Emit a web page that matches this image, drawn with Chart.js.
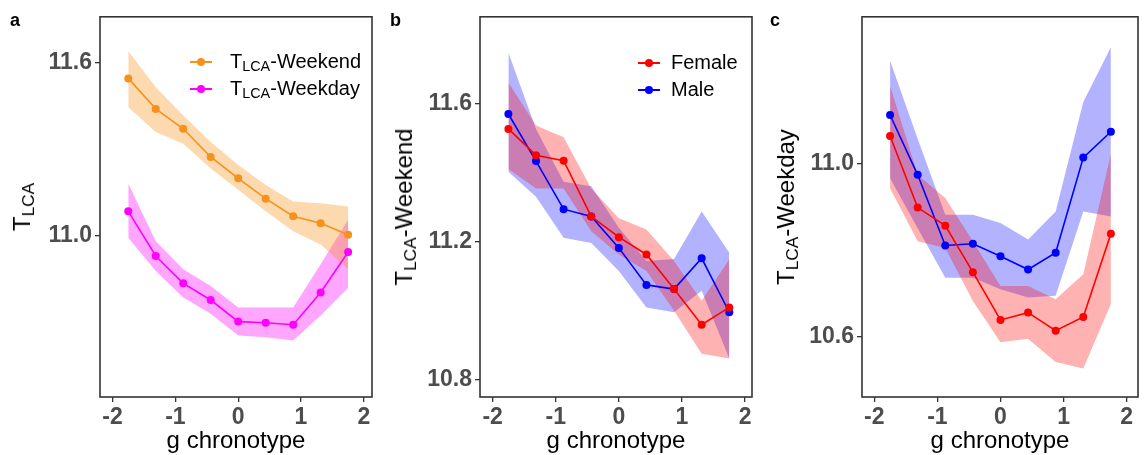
<!DOCTYPE html>
<html lang="en">
<head>
    <meta charset="UTF-8">
    <title>T LCA vs g chronotype</title>
    <script src="https://cdn.jsdelivr.net/npm/chart.js"></script>
    <style>
        body { margin: 0; background: #fff; font-family: "Liberation Sans", Arial, sans-serif; }
        #wrap { position: relative; width: 1146px; height: 455px; overflow: hidden; }
        canvas { position: absolute; top: 0; }
        .tag { position: absolute; top: 10px; font-weight: bold; font-size: 18px; color: #000; }
        .xtitle { position: absolute; top: 426px; font-size: 24px; color: #000; text-align: center; white-space: nowrap; }
        .ytitle { position: absolute; font-size: 24px; color: #000; white-space: nowrap;
                  transform: translate(-50%, -50%) rotate(-90deg); }
        sub { font-size: 0.72em; vertical-align: -0.22em; line-height: 0; }
        .legend { position: absolute; font-size: 20px; color: #000; }
        .legend .row { position: relative; height: 27px; line-height: 27px; white-space: nowrap; padding-left: 40px; }
        .legend .key { position: absolute; left: 0; top: 13px; width: 22px; height: 2px; }
        .legend .key::after { content: ""; position: absolute; left: 7px; top: -3px; width: 8px; height: 8px; border-radius: 50%; background: inherit; }
    </style>
</head>
<body>
<div id="wrap">
    <canvas id="chartA" width="380" height="455" style="left:0px"></canvas>
    <canvas id="chartB" width="380" height="455" style="left:380px"></canvas>
    <canvas id="chartC" width="386" height="455" style="left:760px"></canvas>

    <div class="tag" style="left:10px">a</div>
    <div class="tag" style="left:390px">b</div>
    <div class="tag" style="left:770px">c</div>

    <div class="ytitle" style="left:22px; top:207px">T<sub>LCA</sub></div>
    <div class="ytitle" style="left:404px; top:207px">T<sub>LCA</sub>-Weekend</div>
    <div class="ytitle" style="left:786px; top:207px">T<sub>LCA</sub>-Weekday</div>

    <div class="xtitle" style="left:100px; width:272px">g chronotype</div>
    <div class="xtitle" style="left:480px; width:272px">g chronotype</div>
    <div class="xtitle" style="left:862px; width:276px">g chronotype</div>

    <div class="legend" style="left:190px; top:48px">
        <div class="row"><span class="key" style="background:#F5921B"></span>T<sub>LCA</sub>-Weekend</div>
        <div class="row"><span class="key" style="background:#FF00FF"></span>T<sub>LCA</sub>-Weekday</div>
    </div>
    <div class="legend" style="left:638px; top:49px">
        <div class="row" style="padding-left:33px"><span class="key" style="background:#FF0000"></span>Female</div>
        <div class="row" style="padding-left:33px"><span class="key" style="background:#0000FF"></span>Male</div>
    </div>
</div>

<script>
    // g chronotype bins (x)
    const chronotype = [-1.75, -1.3125, -0.875, -0.4375, 0, 0.4375, 0.875, 1.3125, 1.75];
    const xTicks = [-2, -1, 0, 1, 2];

    // panel a
    const weekend   = [11.545, 11.439, 11.370, 11.272, 11.198, 11.127, 11.066, 11.042, 11.002];
    const weekendHi = [11.640, 11.514, 11.416, 11.324, 11.244, 11.175, 11.117, 11.111, 11.100];
    const weekendLo = [11.445, 11.359, 11.318, 11.232, 11.158, 11.083, 11.014, 10.968, 10.882];
    const weekday   = [11.083, 10.928, 10.833, 10.775, 10.700, 10.696, 10.689, 10.801, 10.942];
    const weekdayHi = [11.180, 10.979, 10.882, 10.824, 10.749, 10.749, 10.749, 10.899, 11.054];
    const weekdayLo = [10.991, 10.876, 10.784, 10.727, 10.652, 10.646, 10.634, 10.721, 10.818];
    const yTicksA = [11.0, 11.6];

    // panel b (weekend by sex)
    const femaleWE   = [11.526, 11.450, 11.434, 11.273, 11.213, 11.163, 11.063, 10.960, 11.010];
    const femaleWEHi = [11.660, 11.536, 11.502, 11.354, 11.268, 11.235, 11.144, 11.029, 11.149];
    const femaleWELo = [11.410, 11.354, 11.354, 11.230, 11.163, 11.115, 11.000, 10.876, 10.862];
    const maleWE     = [11.569, 11.433, 11.294, 11.273, 11.182, 11.075, 11.063, 11.152, 10.996];
    const maleWEHi   = [11.746, 11.526, 11.373, 11.360, 11.240, 11.144, 11.150, 11.287, 11.168];
    const maleWELo   = [11.402, 11.330, 11.211, 11.196, 11.115, 11.010, 10.996, 11.058, 10.862];
    const yTicksB = [10.8, 11.2, 11.6];

    // panel c (weekday by sex)
    const femaleWD   = [11.065, 10.899, 10.857, 10.749, 10.638, 10.655, 10.613, 10.645, 10.838];
    const femaleWDHi = [11.182, 10.975, 10.921, 10.821, 10.717, 10.717, 10.686, 10.744, 11.024];
    const femaleWDLo = [10.944, 10.821, 10.805, 10.682, 10.586, 10.594, 10.540, 10.525, 10.675];
    const maleWD     = [11.114, 10.975, 10.811, 10.815, 10.786, 10.755, 10.794, 11.015, 11.075];
    const maleWDHi   = [11.240, 11.059, 10.882, 10.882, 10.863, 10.825, 10.890, 11.144, 11.271];
    const maleWDLo   = [10.967, 10.851, 10.736, 10.736, 10.709, 10.690, 10.694, 10.890, 10.878];
    const yTicksC = [10.6, 11.0];

    const toXY = ys => ys.map((y, i) => ({ x: chronotype[i], y: y }));

    // band = upper edge + lower edge filled to the previous dataset
    function band(hi, lo, fillColor) {
        return [
            { data: toXY(hi), borderColor: 'rgba(0,0,0,0)', borderWidth: 1, pointRadius: 0, fill: false, order: 3 },
            { data: toXY(lo), borderColor: 'rgba(0,0,0,0)', borderWidth: 1, pointRadius: 0, fill: '-1', backgroundColor: fillColor, order: 3 }
        ];
    }
    function line(ys, color) {
        return { data: toXY(ys), borderColor: color, backgroundColor: color, borderWidth: 1.6,
                 pointRadius: 4, pointHoverRadius: 4, pointBorderWidth: 0, pointBackgroundColor: color,
                 fill: false, order: 1 };
    }

    // frame around the plotting area, like ggplot theme_bw
    const framePlugin = {
        id: 'frame',
        afterDraw(chart) {
            const a = chart.chartArea, ctx = chart.ctx;
            ctx.save();
            ctx.strokeStyle = '#333333';
            ctx.lineWidth = 1.6;
            ctx.strokeRect(a.left, a.top, a.right - a.left, a.bottom - a.top);
            ctx.restore();
        }
    };

    function makeChart(id, datasets, xmin, xmax, ymin, ymax, yTicks, yWidth) {
        const tickFont = { family: 'Liberation Sans', size: 23, weight: 'bold' };
        return new Chart(document.getElementById(id), {
            type: 'line',
            data: { datasets: datasets },
            plugins: [framePlugin],
            options: {
                responsive: false,
                animation: false,
                layout: { padding: { top: 14, right: 8, left: 0, bottom: 0 } },
                plugins: { legend: { display: false }, tooltip: { enabled: false } },
                elements: { line: { tension: 0 } },
                scales: {
                    x: {
                        type: 'linear', min: xmin, max: xmax,
                        afterBuildTicks: s => { s.ticks = xTicks.map(v => ({ value: v })); },
                        afterFit: s => { s.height = 58; },
                        ticks: { font: tickFont, color: '#4D4D4D', padding: 2, maxRotation: 0,
                                 callback: v => String(v) },
                        grid: { drawOnChartArea: false, tickLength: 5, color: '#333333', lineWidth: 1.3 },
                        border: { display: false }
                    },
                    y: {
                        type: 'linear', min: ymin, max: ymax,
                        afterBuildTicks: s => { s.ticks = yTicks.map(v => ({ value: v })); },
                        afterFit: s => { s.width = yWidth; },
                        ticks: { font: tickFont, color: '#4D4D4D', padding: 3,
                                 callback: v => Number(v).toFixed(1) },
                        grid: { drawOnChartArea: false, tickLength: 5, color: '#333333', lineWidth: 1.3 },
                        border: { display: false }
                    }
                }
            }
        });
    }

    window.onload = () => {
        makeChart('chartA', [
            ...band(weekendHi, weekendLo, 'rgba(245,146,27,0.35)'),
            ...band(weekdayHi, weekdayLo, 'rgba(255,0,255,0.35)'),
            line(weekend, '#F5921B'),
            line(weekday, '#FF00FF')
        ], -2.2, 2.13, 10.438, 11.759, yTicksA, 100);

        makeChart('chartB', [
            ...band(femaleWEHi, femaleWELo, 'rgba(255,0,0,0.3)'),
            ...band(maleWEHi, maleWELo, 'rgba(0,0,255,0.3)'),
            line(femaleWE, '#FF0000'),
            line(maleWE, '#0000FF')
        ], -2.2, 2.11, 10.751, 11.85, yTicksB, 100);

        makeChart('chartC', [
            ...band(femaleWDHi, femaleWDLo, 'rgba(255,0,0,0.3)'),
            ...band(maleWDHi, maleWDLo, 'rgba(0,0,255,0.3)'),
            line(femaleWD, '#FF0000'),
            line(maleWD, '#0000FF')
        ], -2.195, 2.18, 10.459, 11.342, yTicksC, 102);
    };
</script>
</body>
</html>
